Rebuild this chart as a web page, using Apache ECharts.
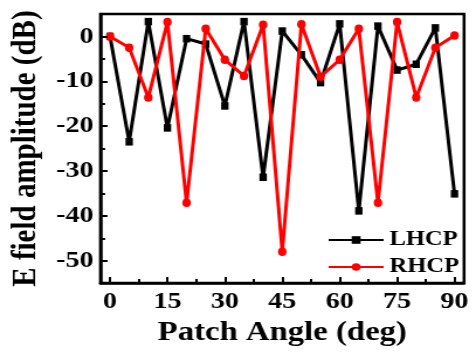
<!DOCTYPE html>
<html>
<head>
<meta charset="utf-8">
<script src="https://cdn.jsdelivr.net/npm/echarts@6/dist/echarts.min.js"></script>
<style>
html, body { margin: 0; padding: 0; overflow: hidden; background: #fff; width: 476px; height: 352px; }
#main { width: 407px; height: 352px; transform: scaleX(1.16953); transform-origin: 0 0; }
</style>
</head>
<body>
<div id="main"></div>
<script>
// ---- data ----
var angles = [0, 5, 10, 15, 20, 25, 30, 35, 40, 45, 50, 55, 60, 65, 70, 75, 80, 85, 90];
var lhcp = [0, -23.5, 3.3, -20.4, -0.5, -1.7, -15.5, 3.3, -31.4, 1.2, -4.1, -10.3, 2.8, -38.9, 2.3, -7.5, -6.2, 1.9, -35.1];
var rhcp = [0, -2.5, -13.6, 3.2, -37.1, 1.7, -5.2, -8.8, 2.6, -48.0, 2.7, -9.0, -5.2, 1.7, -37.1, 3.2, -13.6, -2.5, 0.2];
var xTicks = [0, 15, 30, 45, 60, 75, 90];
var xMinorTicks = [7.5, 22.5, 37.5, 52.5, 67.5, 82.5];
var yTicks = [-50, -40, -30, -20, -10, 0];
var yMinorTicks = [-45, -35, -25, -15, -5];
var seriesNames = ['LHCP', 'RHCP'];
var xTitle = 'Patch Angle (deg)';
var yTitle = 'E field amplitude (dB)';

var FONT = "'Liberation Serif', 'Times New Roman', serif";
function pairs(ys) { return angles.map(function (a, i) { return [a, ys[i]]; }); }

var chart = echarts.init(document.getElementById('main'), null, { renderer: 'canvas' });
chart.setOption({
  animation: false,
  backgroundColor: '#fff',
  grid: {
    left: 85.5, right: 10.2, top: 14, bottom: 68,
    show: true, borderColor: '#000', borderWidth: 2.5, backgroundColor: 'transparent'
  },
  legend: {
    left: 280, top: 229.5, orient: 'vertical',
    itemWidth: 47, itemHeight: 9.5, itemGap: 6, padding: 0,
    textStyle: { fontFamily: FONT, fontWeight: 'bold', fontSize: 21, color: '#000' },
    data: seriesNames
  },
  xAxis: [{
    type: 'value', min: -2.5, max: 92.5, position: 'bottom', z: 5,
    name: xTitle, nameLocation: 'middle', nameGap: 32,
    nameTextStyle: { fontFamily: FONT, fontWeight: 'bold', fontSize: 28, color: '#000' },
    axisLine: { show: true, onZero: false, lineStyle: { color: '#000', width: 2.5 } },
    axisTick: { show: true, inside: true, length: 6, lineStyle: { color: '#000', width: 2 }, customValues: xTicks },
    axisLabel: { show: true, margin: 7, fontFamily: FONT, fontWeight: 'bold', fontSize: 24, color: '#000', customValues: xTicks },
    splitLine: { show: false }
  }, {
    type: 'value', min: -2.5, max: 92.5, position: 'bottom', gridIndex: 0, z: 5,
    axisLine: { show: false, onZero: false },
    axisTick: { show: true, inside: true, length: 4, lineStyle: { color: '#000', width: 2 }, customValues: xMinorTicks },
    axisLabel: { show: false },
    splitLine: { show: false }
  }],
  yAxis: [{
    type: 'value', min: -55, max: 5, position: 'left', z: 5,
    name: yTitle, nameLocation: 'middle', nameGap: 46, nameRotate: 90,
    nameTextStyle: { fontFamily: FONT, fontWeight: 'bold', fontSize: 29, color: '#000' },
    axisLine: { show: true, onZero: false, lineStyle: { color: '#000', width: 2.5 } },
    axisTick: { show: true, inside: true, length: 6, lineStyle: { color: '#000', width: 2 }, customValues: yTicks },
    axisLabel: { show: true, margin: 6, fontFamily: FONT, fontWeight: 'bold', fontSize: 24, color: '#000', customValues: yTicks },
    splitLine: { show: false }
  }, {
    type: 'value', min: -55, max: 5, position: 'left', gridIndex: 0, offset: 0, z: 5,
    axisLine: { show: false, onZero: false },
    axisTick: { show: true, inside: true, length: 4, lineStyle: { color: '#000', width: 2 }, customValues: yMinorTicks },
    axisLabel: { show: false },
    splitLine: { show: false }
  }],
  series: [{
    name: seriesNames[0], type: 'line', xAxisIndex: 0, yAxisIndex: 0,
    data: pairs(lhcp),
    symbol: 'rect', symbolSize: [6.3, 7.5], showAllSymbol: true,
    lineStyle: { color: '#000', width: 3 },
    itemStyle: { color: '#000' },
    z: 2
  }, {
    name: seriesNames[1], type: 'line', xAxisIndex: 0, yAxisIndex: 0,
    data: pairs(rhcp),
    symbol: 'circle', symbolSize: [7.3, 8.5], showAllSymbol: true,
    lineStyle: { color: '#ff0000', width: 3 },
    itemStyle: { color: '#ff0000' },
    z: 3
  }]
});
</script>
</body>
</html>
